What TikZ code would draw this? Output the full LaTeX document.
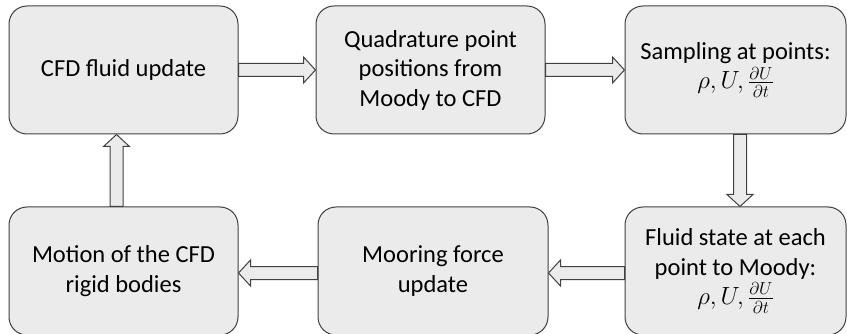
\documentclass[tikz,border=0pt]{standalone}
\usepackage{amsmath, amssymb}
\usepackage{fontspec}
\setmainfont{Carlito}
\usepackage{tikz}
\usetikzlibrary{calc}

\begin{document}
\begin{tikzpicture}[
    x=1pt, y=-1pt,
    stage/.style={draw=black!75, fill=black!8, rounded corners=18pt, line width=1pt,
                  minimum width=229pt, minimum height=128pt, align=center,
                  font=\fontsize{24.5}{29.5}\selectfont},
    blockarrow/.style={draw=black!75, fill=black!8, line width=1pt, line join=miter,
      to path={let \p1=(\tikztostart), \p2=(\tikztotarget),
                   \n1={atan2(\y2-\y1,\x2-\x1)}, \n2={veclen(\x2-\x1,\y2-\y1)} in
        ($(\p1)+(\n1+90:6.5pt)$) -- ($(\p1)+(\n1:{\n2-12pt})+(\n1+90:6.5pt)$)
        -- ($(\p1)+(\n1:{\n2-12pt})+(\n1+90:13pt)$) -- (\p2)
        -- ($(\p1)+(\n1:{\n2-12pt})+(\n1-90:13pt)$)
        -- ($(\p1)+(\n1:{\n2-12pt})+(\n1-90:6.5pt)$)
        -- ($(\p1)+(\n1-90:6.5pt)$) -- cycle}},
]
\useasboundingbox (0,0) rectangle (847,334);

% --- Top row ---
\node[stage] (fluid)  at (123.5, 70) {CFD fluid update};
\node[stage] (quad)   at (430.5, 70) {Quadrature point\\positions from\\Moody to CFD};
\node[stage, minimum width=221pt] (sample) at (735.5, 70)
    {Sampling at points:\\$\rho, U, \frac{\partial U}{\partial t}$};

% --- Bottom row ---
\node[stage, minimum width=221pt] (state) at (735.5, 271)
    {Fluid state at each\\point to Moody:\\$\rho, U, \frac{\partial U}{\partial t}$};
\node[stage, minimum width=230pt] (mooring) at (433, 271) {Mooring force\\update};
\node[stage] (motion) at (123.5, 271) {Motion of the CFD\\rigid bodies};

% ===================== ARROWS =====================
\draw[blockarrow] (fluid.east) to (quad.west);
\draw[blockarrow] (quad.east) to (sample.west);
\draw[blockarrow] ([xshift=4.5pt]sample.south) to ([xshift=4.5pt]state.north);
\draw[blockarrow] ([yshift=-2pt]state.west) to ([yshift=-2pt]mooring.east);
\draw[blockarrow] ([yshift=-2pt]mooring.west) to ([yshift=-2pt]motion.east);
\draw[blockarrow] ([xshift=-7pt]motion.north) to ([xshift=-7pt]fluid.south);

\end{tikzpicture}
\end{document}
